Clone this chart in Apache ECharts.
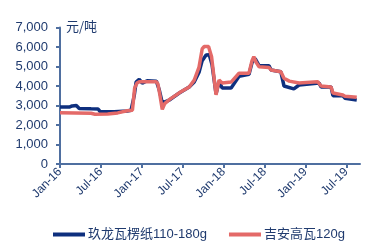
<!DOCTYPE html>
<html><head><meta charset="utf-8">
<script src="https://cdn.jsdelivr.net/npm/echarts@6/dist/echarts.min.js"></script>
<style>html,body{margin:0;padding:0;background:#fff}#c{width:389px;height:250px}</style>
</head><body><div id="c"></div>
<script>
var tickLabels = ['Jan-16','Jul-16','Jan-17','Jul-17','Jan-18','Jul-18','Jan-19','Jul-19'];
var seriesNames = ['玖龙瓦楞纸110-180g','吉安高瓦120g'];
var navyDates = ['2016-01-01','2016-02-12','2016-02-25','2016-03-13','2016-03-26','2016-05-18','2016-06-19','2016-06-28','2016-08-30','2016-10-27','2016-11-14','2016-11-28','2016-12-06','2016-12-20','2017-01-03','2017-01-25','2017-03-05','2017-03-18','2017-04-01','2017-05-02','2017-06-16','2017-07-30','2017-08-22','2017-09-13','2017-09-27','2017-10-14','2017-10-28','2017-11-10','2017-11-28','2017-12-11','2017-12-25','2018-02-04','2018-02-22','2018-03-09','2018-04-23','2018-05-06','2018-05-20','2018-06-07','2018-07-21','2018-07-30','2018-09-13','2018-09-27','2018-11-10','2018-12-03','2019-03-01','2019-03-10','2019-04-24','2019-05-02','2019-06-16','2019-06-25','2019-08-17'];
var navyValues = [2920,2920,2980,3000,2850,2830,2820,2690,2680,2720,2760,3500,4200,4340,4150,4270,4250,3800,3130,3280,3640,3950,4200,4700,5300,5590,5600,5100,3600,4200,3900,3900,4200,4500,4600,5200,5400,5050,5040,4820,4730,4000,3850,4050,4150,3950,3950,3500,3500,3370,3280];
var redDates = ['2016-01-01','2016-05-18','2016-06-05','2016-08-01','2016-09-15','2016-10-27','2016-11-20','2016-11-30','2016-12-10','2016-12-20','2017-03-05','2017-03-12','2017-03-20','2017-04-01','2017-04-12','2017-05-02','2017-06-16','2017-07-30','2017-08-22','2017-09-13','2017-09-27','2017-10-05','2017-10-25','2017-11-08','2017-11-28','2017-12-11','2017-12-25','2018-02-04','2018-03-09','2018-04-23','2018-05-06','2018-05-14','2018-05-25','2018-06-07','2018-07-21','2018-07-30','2018-09-13','2018-09-27','2018-10-20','2018-12-03','2019-02-25','2019-03-10','2019-04-24','2019-05-02','2019-06-16','2019-06-25','2019-08-17'];
var redValues = [2630,2600,2550,2560,2620,2730,2760,3900,4150,4220,4220,4100,3600,2800,3100,3300,3650,3950,4300,4970,5900,6020,6020,5500,3550,4300,4150,4200,4660,4660,5300,5500,5200,4990,4950,4820,4730,4400,4250,4150,4220,4000,3950,3640,3540,3480,3420];

function monthIndex(s){var p=s.split('-');return (+p[0]-2016)*12+(+p[1]-1)+(+p[2]-1)/30.5;}
function pairs(d,v){return d.map(function(x,i){return [monthIndex(x),v[i]];});}
var tickPos = tickLabels.map(function(_,i){return i*6;});
var axisCol = '#4F6FA0', textCol = '#1F3A6E';
var chart = echarts.init(document.getElementById('c'));
chart.setOption({
  animation:false,
  grid:{left:60,right:29,top:27.5,bottom:86},
  legend:{bottom:4,left:48,itemGap:22,icon:'rect',itemWidth:32,itemHeight:4,
    textStyle:{fontSize:13,color:textCol,fontFamily:'Liberation Sans, "Noto Sans CJK SC", sans-serif',padding:[0,0,0,-2]},
    data:seriesNames},
  graphic:[{type:'text',left:66,top:20,style:{text:'元/吨',fontSize:13,fill:textCol,fontFamily:'"Noto Sans CJK SC", sans-serif'}}],
  xAxis:{type:'value',min:0,max:44,interval:6,splitLine:{show:false},
    axisLine:{lineStyle:{color:axisCol,width:2}},
    axisTick:{customValues:tickPos,length:4,lineStyle:{color:axisCol,width:2}},
    axisLabel:{customValues:tickPos,rotate:45,fontSize:12,color:textCol,margin:6,fontFamily:'Liberation Sans, sans-serif',
      formatter:function(v){return tickLabels[Math.round(v/6)]||'';}}},
  yAxis:{type:'value',min:0,max:7000,interval:1000,splitLine:{show:false},
    axisLine:{show:true,lineStyle:{color:axisCol,width:2}},
    axisTick:{show:true,length:4,lineStyle:{color:axisCol,width:2}},
    axisLabel:{fontSize:13,color:textCol,margin:12,fontFamily:'Liberation Sans, sans-serif',
      formatter:function(v){return v.toLocaleString('en-US');}}},
  series:[
    {name:seriesNames[0],type:'line',data:pairs(navyDates,navyValues),showSymbol:false,symbol:'none',
      lineStyle:{color:'#0E2F7E',width:3.5},itemStyle:{color:'#0E2F7E'}},
    {name:seriesNames[1],type:'line',data:pairs(redDates,redValues),showSymbol:false,symbol:'none',
      lineStyle:{color:'#E46A68',width:3.5},itemStyle:{color:'#E46A68'}}
  ]
});
</script></body></html>
